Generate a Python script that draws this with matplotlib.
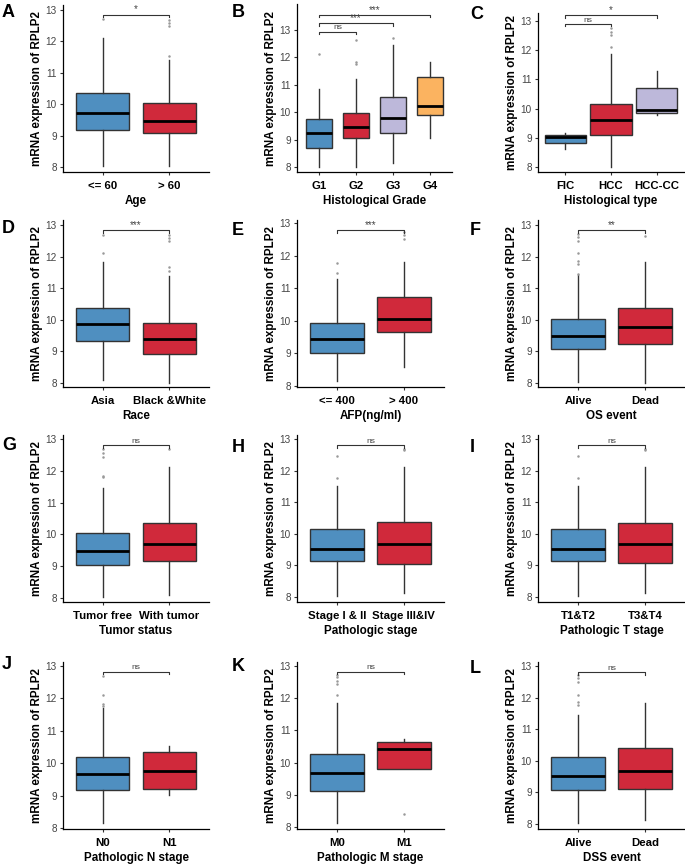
import numpy as np
import matplotlib.pyplot as plt

plt.rcParams['font.family'] = ['Liberation Sans', 'DejaVu Sans']

# ---- data ---------------------------------------------------------------
letters = list("ABCDEFGHIJKL")
xlabels = ["Age", "Histological Grade", "Histological type",
           "Race", "AFP(ng/ml)", "OS event",
           "Tumor status", "Pathologic stage", "Pathologic T stage",
           "Pathologic N stage", "Pathologic M stage", "DSS event"]
groups = [["<= 60", "> 60"], ["G1", "G2", "G3", "G4"], ["FIC", "HCC", "HCC-CC"],
          ["Asia", "Black &White"], ["<= 400", "> 400"], ["Alive", "Dead"],
          ["Tumor free", "With tumor"], ["Stage I & II", "Stage III&IV"], ["T1&T2", "T3&T4"],
          ["N0", "N1"], ["M0", "M1"], ["Alive", "Dead"]]

whis_lo = [[8.04, 8.02], [8.02, 8.02, 8.15, 9.05], [8.63, 8.00, 9.77],
           [8.10, 8.00], [8.13, 8.59], [8.03, 8.00],
           [8.02, 8.10], [8.02, 8.14], [8.02, 8.13],
           [8.15, 9.02], [8.12, 9.80], [8.02, 8.13]]
q1 = [[9.18, 9.07], [8.69, 9.05, 9.24, 9.91], [8.82, 9.08, 9.85],
      [9.34, 8.92], [9.02, 9.64], [9.06, 9.22],
      [9.05, 9.17], [9.14, 9.05], [9.13, 9.07],
      [9.18, 9.20], [9.13, 9.80], [9.08, 9.11]]
med = [[9.71, 9.48], [9.26, 9.47, 9.78, 10.21], [9.02, 9.60, 9.96],
       [9.85, 9.38], [9.43, 10.05], [9.47, 9.77],
       [9.48, 9.69], [9.53, 9.69], [9.51, 9.69],
       [9.66, 9.77], [9.69, 10.43], [9.52, 9.69]]
q3 = [[10.37, 10.03], [9.76, 9.99, 10.55, 11.30], [9.10, 10.17, 10.71],
      [10.38, 9.91], [9.92, 10.73], [10.01, 10.38],
      [10.03, 10.37], [10.16, 10.36], [10.14, 10.34],
      [10.20, 10.33], [10.27, 10.63], [10.13, 10.39]]
whis_hi = [[12.11, 11.40], [10.85, 11.22, 12.45, 11.82], [9.18, 11.88, 11.28],
           [11.84, 11.38], [11.27, 11.81], [11.41, 11.84],
           [11.45, 12.11], [11.53, 12.11], [11.53, 12.11],
           [11.69, 10.53], [11.86, 10.73], [11.46, 11.84]]
outliers = [[[12.70], [11.52, 12.48, 12.58, 12.68]],
            [[12.11], [11.75, 11.85, 12.65], [12.70], []],
            [[], [12.11, 12.51, 12.62, 12.74], []],
            [[12.11, 12.70], [11.55, 11.68, 12.48, 12.60, 12.68]],
            [[11.48, 11.78], [12.50, 12.65, 12.72]],
            [[11.45, 11.78, 11.85, 12.10, 12.50, 12.62, 12.72], [12.65]],
            [[11.80, 11.85, 12.45, 12.55, 12.70], [12.70]],
            [[11.77, 12.48], [12.65, 12.70]],
            [[11.77, 12.47], [12.65, 12.70]],
            [[11.75, 11.82, 12.10, 12.70], []],
            [[12.10, 12.45, 12.52, 12.65, 12.72], [8.40]],
            [[11.78, 11.85, 12.10, 12.50, 12.62, 12.72], []]]

# significance brackets: (group i, group j, height, label)
sig = [[(1, 2, 12.85, "*")],
       [(1, 2, 12.94, "ns"), (1, 3, 13.24, "***"), (1, 4, 13.55, "***")],
       [(1, 2, 12.89, "ns"), (1, 3, 13.19, "*")],
       [(1, 2, 12.84, "***")],
       [(1, 2, 12.78, "***")],
       [(1, 2, 12.84, "**")],
       [(1, 2, 12.81, "ns")],
       [(1, 2, 12.81, "ns")],
       [(1, 2, 12.81, "ns")],
       [(1, 2, 12.82, "ns")],
       [(1, 2, 12.82, "ns")],
       [(1, 2, 12.81, "ns")]]

# ---- layout (pixels: left, right, top, bottom) ---------------------------
W, H = 685, 866
boxes_px = [(63, 209, 5, 172), (297, 452, 4, 172), (538, 684, 13, 172),
            (63, 209, 220, 387), (297, 444, 220, 387), (538, 685, 220, 387),
            (63, 209, 435, 602), (297, 444, 435, 602), (538, 685, 435, 602),
            (63, 209, 662, 829), (297, 444, 662, 829), (538, 685, 662, 829)]
ylims = [(7.84, 13.16), (7.82, 13.95), (7.83, 13.27),
         (7.87, 13.16), (7.96, 13.10), (7.87, 13.16),
         (7.87, 13.13), (7.84, 13.13), (7.84, 13.13),
         (7.97, 13.12), (7.94, 13.12), (7.84, 13.13)]
widths = [0.8, 0.72, 0.9] + [0.8] * 9
letter_pos = [(2, 4), (232, 4), (470, 6),
              (2, 220), (232, 222), (470, 222),
              (2, 437), (232, 439), (470, 439),
              (2, 656), (232, 658), (470, 660)]
palette = ["#4F8FC0", "#D0293B", "#BDB8DA", "#FBB360"]

fig = plt.figure(figsize=(W / 100, H / 100), dpi=100)

for k in range(12):
    x0, x1, top, bot = boxes_px[k]
    ax = fig.add_axes([x0 / W, 1 - bot / H, (x1 - x0) / W, (bot - top) / H])
    n = len(groups[k])
    stats = []
    for g in range(n):
        stats.append(dict(whislo=whis_lo[k][g], q1=q1[k][g], med=med[k][g],
                          q3=q3[k][g], whishi=whis_hi[k][g], fliers=outliers[k][g]))
    bp = ax.bxp(stats, positions=np.arange(1, n + 1), widths=widths[k],
                patch_artist=True, showcaps=False,
                boxprops=dict(edgecolor="#333333", linewidth=1.0),
                whiskerprops=dict(color="#333333", linewidth=1.0),
                medianprops=dict(color="black", linewidth=2.0),
                flierprops=dict(marker="o", markersize=1.8, markerfacecolor="#999999",
                                markeredgecolor="none"))
    for g, patch in enumerate(bp["boxes"]):
        patch.set_facecolor(palette[g])
        patch.set_zorder(2)
    for line in bp["medians"]:
        line.set_zorder(3)

    for (i, j, y, lab) in sig[k]:
        ax.plot([i, i, j, j], [y - 0.08, y, y, y - 0.08], color="#333333", lw=0.8)
        ax.text((i + j) / 2, y + 0.01, lab, ha="center", va="bottom",
                fontsize=6 if lab == "ns" else 7, color="#444444")

    ax.set_xlim(0.4, n + 0.6)
    ax.set_ylim(*ylims[k])
    ax.set_yticks([8, 9, 10, 11, 12, 13])
    ax.set_xticks(np.arange(1, n + 1))
    ax.set_xticklabels(groups[k], fontsize=8.2, fontweight="bold")
    ax.tick_params(axis="y", labelsize=7.2, labelcolor="#444444", length=2.5,
                   color="#333333", width=0.8, pad=2)
    ax.tick_params(axis="x", length=2.5, color="#333333", width=0.8, pad=4)
    for s in ["top", "right"]:
        ax.spines[s].set_visible(False)
    for s in ["left", "bottom"]:
        ax.spines[s].set_linewidth(0.9)
    ax.set_xlabel(xlabels[k], fontsize=8.4, fontweight="bold", labelpad=3)
    ax.set_ylabel("mRNA expression of RPLP2", fontsize=8.4, fontweight="bold", labelpad=1.5)

    lx, ly = letter_pos[k]
    fig.text(lx / W, 1 - ly / H, letters[k], fontsize=13, fontweight="bold",
             ha="left", va="top")

fig.savefig("out.png", dpi=100)
